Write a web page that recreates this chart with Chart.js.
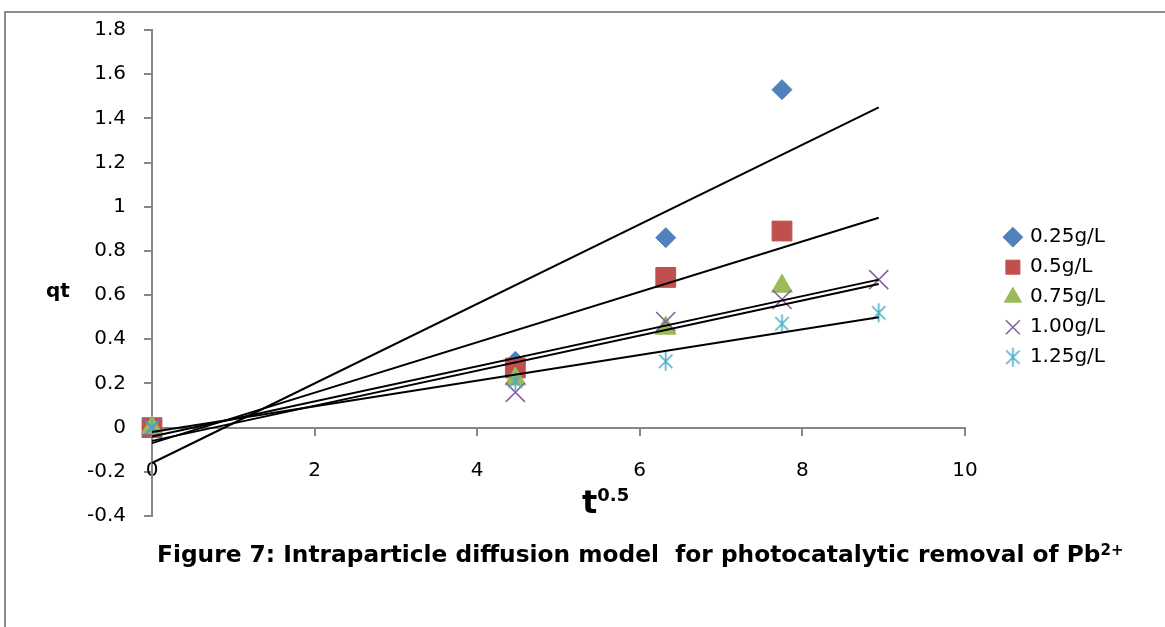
<!DOCTYPE html>
<html>
<head>
<meta charset="utf-8">
<script src="https://cdn.jsdelivr.net/npm/chart.js@4.4.1/dist/chart.umd.min.js"></script>
<style>
  html, body { margin: 0; padding: 0; background: #fff; }
  #wrap { position: relative; width: 1165px; height: 627px; overflow: hidden; font-family: "DejaVu Sans", sans-serif; }
  #frame { position: absolute; left: 4px; top: 11px; width: 1200px; height: 700px;
           border-top: 2px solid #8c8c8c; border-left: 2px solid #8c8c8c; pointer-events: none; }
  canvas { position: absolute; left: 0; top: 0; }
  .lbl { position: absolute; font-weight: bold; color: #000; white-space: pre; }
  #yTitle { left: 46px; top: 278px; font-size: 20px; line-height: 24px; }
  #xTitle { left: 582px; top: 484px; font-size: 32px; line-height: 36px; }
  #xTitle sup { font-size: 18px; vertical-align: 0; position: relative; top: -12px; }
  #caption { left: 157px; top: 540px; font-size: 23.3px; line-height: 28px; }
  #caption sup { font-size: 15px; position: relative; top: -4px; vertical-align: top; }
</style>
</head>
<body>
<div id="wrap">
  <canvas id="chart" width="1165" height="627"></canvas>
  <div id="frame"></div>
  <div class="lbl" id="yTitle">qt</div>
  <div class="lbl" id="xTitle">t<sup>0.5</sup></div>
  <div class="lbl" id="caption">Figure 7: Intraparticle diffusion model  for photocatalytic removal of Pb<sup>2+</sup></div>
</div>
<script>
// t^0.5 values (sqrt of minutes) and qt readings per catalyst dose
const tHalf = [0, 4.47, 6.32, 7.75, 8.94];
const doseLabels = ["0.25g/L", "0.5g/L", "0.75g/L", "1.00g/L", "1.25g/L"];
const q025 = [0, 0.30, 0.86, 1.53];
const q05 = [0, 0.27, 0.68, 0.89];
const q075 = [0, 0.22, 0.45, 0.64];
const q100 = [0, 0.16, 0.48, 0.58, 0.67];
const q125 = [0, 0.21, 0.30, 0.47, 0.52];

// linear trendlines as drawn: value at t^0.5 = 0 and at the last t^0.5
const trendX = [0, 8.94];
const trendStart = [-0.16, -0.07, -0.04, -0.06, -0.02];
const trendEnd = [1.45, 0.95, 0.67, 0.65, 0.50];

const yTicksMin = -0.4, yTicksMax = 1.8, yStep = 0.2;
const xTicksMin = 0, xTicksMax = 10, xStep = 2;

const AXIS = "#868686";

// Excel-style star marker: vertical bar plus two diagonals
function starMarker(color, size) {
  const c = document.createElement("canvas");
  c.width = size; c.height = size;
  const g = c.getContext("2d");
  const m = size / 2, r = size / 2 - 1, d = r * Math.SQRT1_2;
  g.strokeStyle = color;
  g.lineWidth = 1.6;
  g.beginPath();
  g.moveTo(m, m - r); g.lineTo(m, m + r);
  g.moveTo(m - d, m - d); g.lineTo(m + d, m + d);
  g.moveTo(m - d, m + d); g.lineTo(m + d, m - d);
  g.stroke();
  return c;
}

const styles = [
  { color: "#4F81BD", pointStyle: "rectRot", radius: 10, border: 1 },
  { color: "#C0504D", pointStyle: "rect", radius: 14, border: 1 },
  { color: "#9BBB59", pointStyle: "triangle", radius: 12, border: 1 },
  { color: "#8064A2", pointStyle: "crossRot", radius: 13.5, border: 1.6 },
  { color: "#4BACC6", pointStyle: starMarker("#4BACC6", 21), radius: 10, border: 1.6 },
];

const seriesValues = [q025, q05, q075, q100, q125];

const scatterSets = seriesValues.map((vals, i) => ({
  type: "scatter",
  label: doseLabels[i],
  data: vals.map((y, j) => ({ x: tHalf[j], y })),
  pointStyle: styles[i].pointStyle,
  pointRadius: styles[i].radius,
  pointHoverRadius: styles[i].radius,
  backgroundColor: styles[i].color,
  borderColor: styles[i].color,
  pointBorderWidth: styles[i].border,
  borderWidth: styles[i].border,
  clip: false,
  // later series sit on top, as in the source
  order: 10 - i,
}));

const trendSets = trendStart.map((y0, i) => ({
  type: "line",
  label: "trend " + doseLabels[i],
  data: [{ x: trendX[0], y: y0 }, { x: trendX[1], y: trendEnd[i] }],
  borderColor: "#000",
  borderWidth: 2,
  pointRadius: 0,
  fill: false,
  clip: false,
  order: 0,
}));

Chart.defaults.font.family = "'DejaVu Sans', sans-serif";
Chart.defaults.font.size = 20;
Chart.defaults.color = "#000";

new Chart(document.getElementById("chart"), {
  data: { datasets: [...scatterSets, ...trendSets] },
  options: {
    responsive: false,
    animation: false,
    layout: { padding: { left: 0, top: 29, right: 50, bottom: 111 } },
    plugins: {
      tooltip: { enabled: false },
      legend: {
        position: "right",
        // empty title only pushes the legend rows down to where the source has them
        title: { display: true, text: "", font: { size: 12, lineHeight: 1.2 }, padding: { top: 35, bottom: 0 } },
        labels: {
          usePointStyle: true,
          boxWidth: 14,
          boxHeight: 14,
          padding: 10,
          font: { size: 20 },
          color: "#000",
          filter: (item) => !item.text.startsWith("trend"),
          sort: (a, b) => a.datasetIndex - b.datasetIndex,
        },
      },
    },
    scales: {
      x: {
        type: "linear",
        position: { y: 0 },
        min: xTicksMin,
        max: xTicksMax,
        ticks: { stepSize: xStep, padding: 24, maxRotation: 0 },
        grid: { drawOnChartArea: false, drawTicks: true, tickLength: 7, color: AXIS, lineWidth: 2 },
        border: { display: true, color: AXIS, width: 2 },
        afterFit: (s) => { s.height = 0; },
      },
      y: {
        type: "linear",
        position: "left",
        min: yTicksMin,
        max: yTicksMax,
        ticks: { stepSize: yStep, padding: 18, callback: (v) => String(+v.toFixed(1)) },
        grid: { drawOnChartArea: false, drawTicks: true, tickLength: 8, color: AXIS, lineWidth: 2 },
        border: { display: true, color: AXIS, width: 2 },
        afterFit: (s) => { s.width = 152; },
      },
      // blank spacer between the plot and the legend
      gap: {
        type: "linear",
        position: "right",
        display: true,
        ticks: { display: false },
        grid: { display: false },
        border: { display: false },
        afterFit: (s) => { s.width = 31; },
      },
    },
  },
});
</script>
</body>
</html>
